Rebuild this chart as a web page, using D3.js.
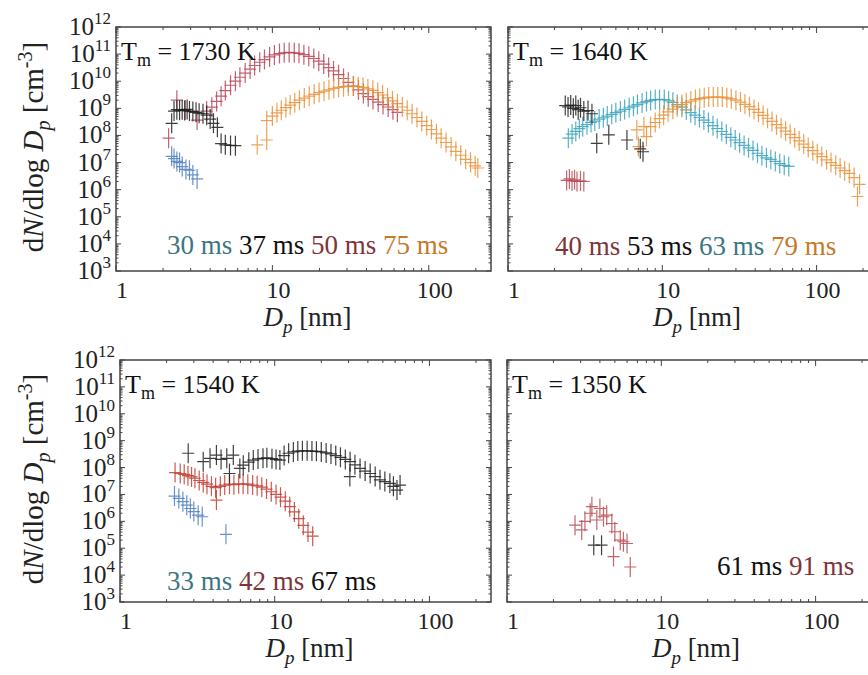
<!DOCTYPE html>
<html>
<head>
<meta charset="utf-8">
<script src="https://cdn.jsdelivr.net/npm/d3@7"></script>
<style>
  body { margin: 0; background: #fff; }
  svg, svg text { font-family: "Liberation Serif", "Tinos", "DejaVu Serif", "Times New Roman", serif; }
</style>
</head>
<body>
<div id="chart"></div>
<script>
const svgWidth = 868
const svgHeight = 675

// axis settings shared by all four panels
const xDomain = [1, 250]
const yDomain = [1e3, 1e12]
const xTickValues = [1, 10, 100]
const yExponents = [3, 4, 5, 6, 7, 8, 9, 10, 11, 12]

// ---- T_m = 1730 K ----  [Dp nm, dN/dlogDp cm^-3]
const tl30ms = [[2.27,1.7e7],[2.35,1.4e7],[2.45,1.1e7],[2.55,1.0e7],[2.65,7.1e6],[2.8,5.6e6],[2.95,5.2e6],[3.1,3.5e6],[3.3,2.5e6]]
const tl37ms = [[2.27,2.8e8],[2.35,7.9e8],[2.45,8.9e8],[2.55,8.5e8],[2.65,8.9e8],[2.75,8.3e8],[2.85,9.1e8],[2.95,7.9e8],[3.1,7.6e8],[3.25,7.1e8],[3.4,6.6e8],[3.6,6.3e8],[3.8,5.6e8],[4.0,4.0e8],[4.2,2.8e8],[4.45,2.0e8],[4.7,5.0e7],[5.0,4.5e7],[5.4,4.3e7],[5.8,4.2e7]]
const tl50ms = [[2.17,7.9e7],[2.45,2.0e9],[2.77,8.7e8],[3.3,3.7e8],[3.8,7.9e8],[4.1,1.1e9],[4.4,1.8e9],[4.7,2.8e9],[5.0,4.5e9],[5.4,7.1e9],[5.8,1.0e10],[6.2,1.4e10],[6.7,2.0e10],[7.2,2.8e10],[7.7,3.8e10],[8.3,5.0e10],[8.9,6.3e10],[9.6,7.9e10],[10.3,9.3e10],[11.1,1.05e11],[11.9,1.12e11],[12.8,1.15e11],[13.8,1.12e11],[14.8,1.07e11],[15.9,9.5e10],[17.1,8.3e10],[18.4,6.9e10],[19.8,5.5e10],[21.3,4.3e10],[22.9,3.2e10],[24.6,2.4e10],[26.5,1.74e10],[28.5,1.26e10],[30.6,9.1e9],[33,6.6e9],[35.5,4.8e9],[38.2,3.5e9],[41,2.7e9],[44,2.14e9],[47.5,1.7e9],[51,1.38e9],[55,1.12e9],[59,8.9e8],[63,7.1e8]]
const tl75ms = [[8.0,4.5e7],[9.2,6.8e7],[9.2,3.5e8],[10.0,5.2e8],[10.7,6.8e8],[11.4,8.5e8],[12.2,1.07e9],[13.0,1.32e9],[13.9,1.62e9],[14.9,2.0e9],[16.0,2.4e9],[17.2,2.8e9],[18.5,3.3e9],[19.9,3.8e9],[21.4,4.3e9],[23,4.8e9],[24.7,5.4e9],[26.5,5.9e9],[28.5,6.3e9],[30.6,6.6e9],[32.9,6.6e9],[35.4,6.3e9],[38,5.9e9],[40.8,5.2e9],[43.9,4.6e9],[47.2,3.8e9],[50.7,3.1e9],[54.5,2.45e9],[58.6,1.9e9],[63,1.48e9],[67.7,1.12e9],[72.8,8.5e8],[78.2,6.3e8],[84,4.6e8],[90.3,3.3e8],[97,2.3e8],[104,1.66e8],[112,1.15e8],[120,7.9e7],[129,5.5e7],[139,3.8e7],[149,2.6e7],[160,1.86e7],[172,1.32e7],[185,1.0e7],[198,7.6e6],[206,6.3e6]]

// ---- T_m = 1640 K ----
const tr40ms = [[2.4,2.2e6],[2.5,2.5e6],[2.6,2.1e6],[2.7,2.3e6],[2.8,2.0e6],[2.95,2.1e6],[3.1,2.0e6]]
const tr53ms = [[2.35,1.26e9],[2.45,1.12e9],[2.55,1.32e9],[2.65,1.0e9],[2.75,1.26e9],[2.85,8.9e8],[2.95,1.05e9],[3.1,7.9e8],[3.3,8.3e8],[3.5,6.3e8],[3.76,5.1e7],[4.5,1.05e8],[5.9,6.8e7],[7.2,3.2e7],[7.5,2.5e7]]
const tr63ms = [[2.46,7.9e7],[2.6,1.12e8],[2.75,1.41e8],[2.9,1.78e8],[3.05,2.1e8],[3.25,2.5e8],[3.45,3.0e8],[3.65,3.4e8],[3.9,4.0e8],[4.15,4.5e8],[4.4,5.2e8],[4.7,6.0e8],[5.0,6.9e8],[5.35,7.9e8],[5.7,9.1e8],[6.1,1.05e9],[6.5,1.2e9],[6.9,1.38e9],[7.4,1.58e9],[7.9,1.78e9],[8.4,1.95e9],[9.0,2.1e9],[9.6,2.14e9],[10.3,2.1e9],[11.0,1.9e9],[11.7,1.66e9],[12.5,1.38e9],[13.4,1.1e9],[14.3,8.7e8],[15.3,6.9e8],[16.3,5.6e8],[17.4,4.6e8],[18.6,3.7e8],[19.9,3.0e8],[21.3,2.3e8],[22.7,1.8e8],[24.3,1.4e8],[26,1.1e8],[27.8,8.5e7],[29.7,6.8e7],[31.7,5.4e7],[33.9,4.3e7],[36.2,3.5e7],[38.7,2.8e7],[41.4,2.2e7],[44.2,1.8e7],[47.3,1.5e7],[50.5,1.3e7],[54,1.1e7],[57.7,9.1e6],[61.7,7.9e6],[66,7.2e6]]
const tr79ms = [[6.84,1.6e8],[7.0,3.9e7],[7.6,2.1e8],[7.9,9.1e7],[8.4,2.1e8],[9.0,3.0e8],[9.6,4.2e8],[10.2,5.6e8],[10.9,7.4e8],[11.7,9.3e8],[12.5,1.15e9],[13.4,1.38e9],[14.3,1.62e9],[15.3,1.86e9],[16.4,2.1e9],[17.5,2.3e9],[18.7,2.45e9],[20,2.6e9],[21.4,2.6e9],[22.9,2.6e9],[24.5,2.6e9],[26.2,2.45e9],[28,2.24e9],[30,2.0e9],[32.1,1.7e9],[34.3,1.41e9],[36.7,1.15e9],[39.3,9.1e8],[42,7.1e8],[45,5.5e8],[48.1,4.3e8],[51.4,3.3e8],[55,2.5e8],[58.9,1.9e8],[63,1.45e8],[67.4,1.1e8],[72.1,8.3e7],[77.1,6.3e7],[82.5,4.8e7],[88.3,3.6e7],[94.5,2.75e7],[101,2.1e7],[108,1.66e7],[116,1.26e7],[124,1.0e7],[133,7.9e6],[142,6.3e6],[152,5.0e6],[163,4.0e6],[175,2.8e6],[184,5.6e5],[190,1.58e6]]

// ---- T_m = 1540 K ----
const bl33ms = [[2.25,8.7e6],[2.4,7.1e6],[2.55,5.4e6],[2.7,4.0e6],[2.85,3.0e6],[3.0,2.3e6],[3.2,1.7e6],[3.4,1.48e6],[4.84,3.3e5]]
const bl42ms = [[2.27,6.5e7],[2.45,6.0e7],[2.6,5.6e7],[2.75,5.0e7],[2.9,4.5e7],[3.05,4.0e7],[3.25,3.3e7],[3.45,2.8e7],[3.65,2.4e7],[3.9,2.0e7],[4.15,1.78e7],[4.2,6.2e6],[4.45,2.0e7],[4.75,2.24e7],[5.1,2.4e7],[5.45,2.3e7],[5.85,2.5e7],[6.25,2.4e7],[6.7,2.4e7],[7.2,2.24e7],[7.7,2.1e7],[8.25,1.86e7],[8.85,1.58e7],[9.5,1.26e7],[10.2,1.0e7],[10.9,7.9e6],[11.7,5.6e6],[12.5,3.5e6],[13.4,2.24e6],[14.3,1.26e6],[15.3,7.1e5],[16.4,4.0e5],[17.6,2.8e5]]
const bl67ms = [[2.76,3.4e8],[3.45,1.66e8],[3.82,2.2e8],[4.2,2.9e8],[4.5,2.0e8],[4.9,2.2e8],[5.1,6.0e7],[5.4,2.9e8],[5.95,9.3e7],[6.26,1.23e8],[6.8,1.58e8],[7.27,1.9e8],[7.8,2.1e8],[8.4,2.2e8],[8.9,2.3e8],[9.6,2.14e8],[10.2,2.0e8],[10.8,1.9e8],[11.5,2.8e8],[12.3,3.4e8],[13.2,3.8e8],[14.1,4.1e8],[15.1,4.2e8],[16.2,4.2e8],[17.4,4.1e8],[18.6,4.0e8],[20,3.8e8],[21.5,3.5e8],[23.1,3.2e8],[24.8,2.8e8],[26.6,2.4e8],[28.6,2.0e8],[30.7,1.66e8],[30.6,4.6e7],[33,1.26e8],[35.6,9.3e7],[38.4,7.4e7],[41.4,6.0e7],[44.6,4.6e7],[47.9,3.5e7],[51.5,3.0e7],[55.5,2.6e7],[58.5,2.0e7],[61.7,1.45e7],[64.6,2.24e7]]

// ---- T_m = 1350 K ----
const br61ms = [[3.65,1.3e5],[4.1,1.3e5]]
const br91ms = [[2.76,7.2e5],[3.05,4.8e5],[3.2,1.0e6],[3.46,2.0e6],[3.55,3.5e6],[3.82,1.12e6],[4.0,3.0e6],[4.22,1.48e6],[4.43,1.7e6],[4.78,8.3e5],[5.0,4.1e5],[5.42,2.0e5],[5.68,1.74e5],[6.0,1.5e5],[4.9,4.9e4],[6.29,2.0e4]]

// marker + label colours
const c = {
  blue: "#4f7fbf", black: "#1e1e1e", crimson: "#b84458", orange: "#e8923a",
  teal: "#3aa3bb", red: "#c23b33", rose: "#b84a50",
  tealText: "#3b7682", maroonText: "#7e3438", orangeText: "#c8782a", blackText: "#111"
}

const panels = [
  { box: [116, 27, 491, 271], temp: "1730 K",
    series: [[tl50ms, c.crimson], [tl75ms, c.orange], [tl30ms, c.blue], [tl37ms, c.black]],
    legend: [["30 ms", c.tealText], ["37 ms", c.blackText], ["50 ms", c.maroonText], ["75 ms", c.orangeText]],
    legendAt: [167, 254] },
  { box: [508, 27, 878, 271], temp: "1640 K",
    series: [[tr40ms, c.rose], [tr63ms, c.teal], [tr79ms, c.orange], [tr53ms, c.black]],
    legend: [["40 ms", c.maroonText], ["53 ms", c.blackText], ["63 ms", c.tealText], ["79 ms", c.orangeText]],
    legendAt: [555, 255] },
  { box: [120, 360, 491, 602], temp: "1540 K",
    series: [[bl33ms, c.blue], [bl42ms, c.red], [bl67ms, c.black]],
    legend: [["33 ms", c.tealText], ["42 ms", c.maroonText], ["67 ms", c.blackText]],
    legendAt: [167, 590] },
  { box: [507, 360, 877, 602], temp: "1350 K",
    series: [[br91ms, c.rose], [br61ms, c.black]],
    legend: [["61 ms", c.blackText], ["91 ms", c.maroonText]],
    legendAt: [717, 575] }
]

const serif = "Liberation Serif, Tinos, DejaVu Serif, Times New Roman, serif"

let svg = d3.select("#chart").append("svg")
  .attr("width", svgWidth)
  .attr("height", svgHeight)
  .attr("font-family", serif)

// cross marker: horizontal bar + vertical bar
function cross(x, y) {
  const hw = 6, hh = 10
  return `M${x - hw},${y}H${x + hw}M${x},${y - hh}V${y + hh}`
}

function drawPanel(p, i) {
  const [x0, y0, x1, y1] = p.box
  const x = d3.scaleLog().domain(xDomain).range([x0, x1])
  const y = d3.scaleLog().domain(yDomain).range([y1, y0])
  const g = svg.append("g")
  const axisColor = "#444"

  // minor + major ticks, inward on all four sides (MATLAB style box)
  const xMinor = []
  for (let d = 1; d <= 100; d *= 10)
    for (let m = 2; m <= 9; m++) if (d * m <= xDomain[1]) xMinor.push(d * m)
  const yMinor = []
  for (let e = 3; e < 12; e++)
    for (let m = 2; m <= 9; m++) yMinor.push(m * Math.pow(10, e))

  const ticks = g.append("g").attr("stroke", axisColor).attr("stroke-width", 1)
  xMinor.forEach(v => {
    ticks.append("line").attr("x1", x(v)).attr("x2", x(v)).attr("y1", y1).attr("y2", y1 - 3)
    ticks.append("line").attr("x1", x(v)).attr("x2", x(v)).attr("y1", y0).attr("y2", y0 + 3)
  })
  xTickValues.forEach(v => {
    ticks.append("line").attr("x1", x(v)).attr("x2", x(v)).attr("y1", y1).attr("y2", y1 - 6)
    ticks.append("line").attr("x1", x(v)).attr("x2", x(v)).attr("y1", y0).attr("y2", y0 + 6)
  })
  yMinor.forEach(v => {
    ticks.append("line").attr("x1", x0).attr("x2", x0 + 2.5).attr("y1", y(v)).attr("y2", y(v))
    ticks.append("line").attr("x1", x1).attr("x2", x1 - 2.5).attr("y1", y(v)).attr("y2", y(v))
  })
  yExponents.forEach(e => {
    const v = Math.pow(10, e)
    ticks.append("line").attr("x1", x0).attr("x2", x0 + 5).attr("y1", y(v)).attr("y2", y(v))
    ticks.append("line").attr("x1", x1).attr("x2", x1 - 5).attr("y1", y(v)).attr("y2", y(v))
  })

  // data
  p.series.forEach(([data, color]) => {
    g.append("g")
      .attr("fill", "none")
      .attr("stroke", color)
      .attr("stroke-width", 1.2)
      .attr("stroke-opacity", 0.85)
      .selectAll("path")
      .data(data)
      .enter()
      .append("path")
      .attr("d", d => cross(x(d[0]), y(d[1])))
  })

  // box
  g.append("rect")
    .attr("x", x0).attr("y", y0)
    .attr("width", x1 - x0).attr("height", y1 - y0)
    .attr("fill", "none")
    .attr("stroke", axisColor)
    .attr("stroke-width", 1.5)

  // x tick labels
  g.selectAll("text.xtick")
    .data(xTickValues)
    .enter()
    .append("text")
    .classed("xtick", true)
    .attr("x", d => x(d) + 6)
    .attr("y", y1 + 27)
    .attr("text-anchor", "middle")
    .attr("font-size", "24px")
    .attr("fill", "#222")
    .text(d => d)

  // x axis label
  const xl = g.append("text")
    .attr("x", (x0 + x1) / 2 + 4)
    .attr("y", y1 + 55)
    .attr("text-anchor", "middle")
    .attr("font-size", "27px")
    .attr("fill", "#222")
  xl.append("tspan").attr("font-style", "italic").text("D")
  xl.append("tspan").attr("font-style", "italic").attr("font-size", "19px").attr("dy", 7).text("p")
  xl.append("tspan").attr("dy", -7).text(" [nm]")

  // left column gets y tick labels and y axis label
  if (i % 2 === 0) {
    yExponents.forEach(e => {
      const t = g.append("text")
        .attr("x", x0 - 5)
        .attr("y", y(Math.pow(10, e)) + 8)
        .attr("text-anchor", "end")
        .attr("font-size", "25px")
        .attr("fill", "#222")
      t.append("tspan").text("10")
      t.append("tspan").attr("font-size", "17px").attr("dy", -11).text(e)
    })

    const yl = g.append("text")
      .attr("transform", `translate(43, ${(y0 + y1) / 2 - 2}) rotate(-90)`)
      .attr("text-anchor", "middle")
      .attr("font-size", "29px")
      .attr("fill", "#222")
    yl.append("tspan").text("d")
    yl.append("tspan").attr("font-style", "italic").text("N")
    yl.append("tspan").text("/dlog ")
    yl.append("tspan").attr("font-style", "italic").text("D")
    yl.append("tspan").attr("font-style", "italic").attr("font-size", "20px").attr("dy", 7).text("p")
    yl.append("tspan").attr("dy", -7).text(" [cm")
    yl.append("tspan").attr("font-size", "20px").attr("dy", -11).text("-3")
    yl.append("tspan").attr("dy", 11).text("]")
  }

  // temperature annotation
  const tt = g.append("text")
    .attr("x", x0 + 5)
    .attr("y", y0 + 33)
    .attr("font-size", "26px")
    .attr("fill", "#111")
  tt.append("tspan").text("T")
  tt.append("tspan").attr("font-size", "18px").attr("dy", 6).text("m")
  tt.append("tspan").attr("dy", -6).text(" = " + p.temp)

  // legend text, each residence time in its colour
  const lg = g.append("text")
    .attr("x", p.legendAt[0])
    .attr("y", p.legendAt[1])
    .attr("font-size", "27px")
  p.legend.forEach(([label, color], k) => {
    lg.append("tspan").attr("fill", color).text((k > 0 ? " " : "") + label)
  })
}

panels.forEach(drawPanel)
</script>
</body>
</html>
